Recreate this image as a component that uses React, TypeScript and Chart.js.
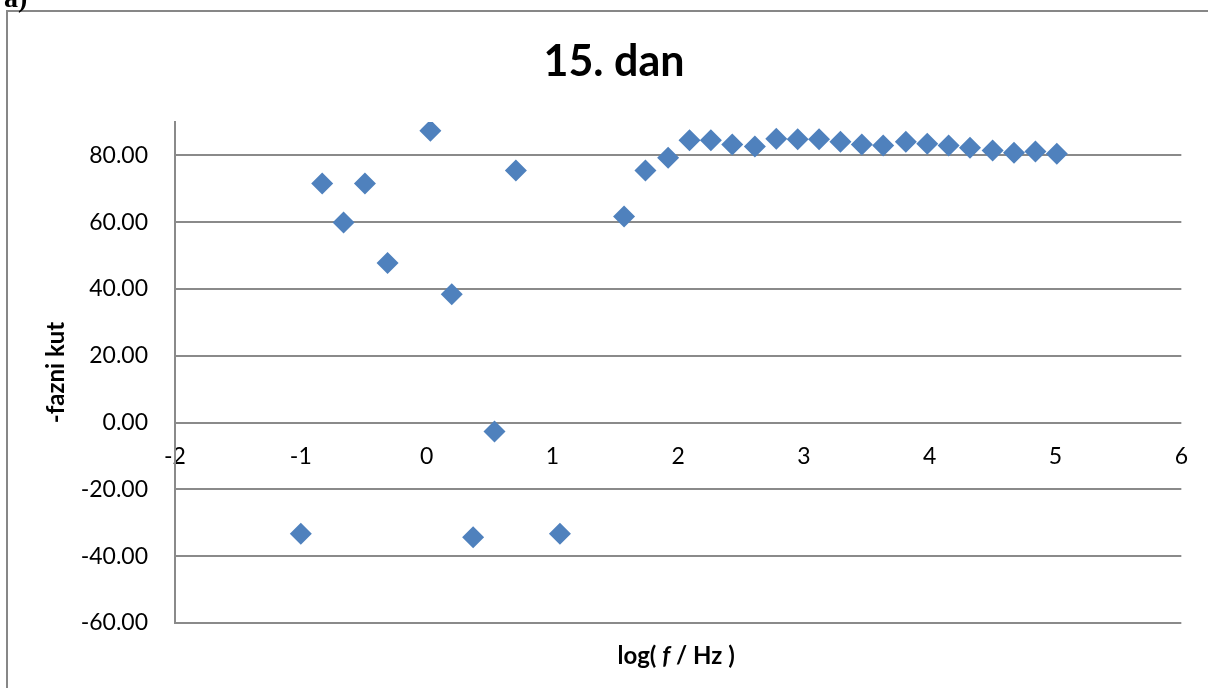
import React, { useEffect, useRef } from "react";
import { Chart, registerables } from "chart.js";

Chart.register(...registerables);

// log(f / Hz) values
const logF = [
  -1.0, -0.83, -0.66, -0.49, -0.31, 0.03, 0.2, 0.37, 0.54, 0.71, 1.06,
  1.57, 1.74, 1.92, 2.09, 2.26, 2.43, 2.61, 2.78, 2.95, 3.12, 3.29, 3.46,
  3.63, 3.81, 3.98, 4.15, 4.32, 4.5, 4.67, 4.84, 5.01,
];
// -phase angle values
const phase = [
  -33.3, 71.6, 59.9, 71.6, 47.8, 87.4, 38.4, -34.3, -2.7, 75.5, -33.3,
  61.7, 75.5, 79.3, 84.5, 84.5, 83.3, 82.7, 85.0, 84.8, 84.8, 84.1, 83.3,
  83.0, 84.1, 83.5, 83.0, 82.3, 81.5, 80.8, 81.2, 80.5,
];

const xTicks = [-2, -1, 0, 1, 2, 3, 4, 5, 6];
const yTicks = [-60, -40, -20, 0, 20, 40, 60, 80];

const chartTitle = "15. dan";
const yTitle = "-fazni kut";
const xTitleParts: [string, boolean][] = [
  ["log( ", false],
  ["f", true],
  [" / Hz )", false],
];
const panelLabel = "a)";

const FONT = "Lato";
const GRID = "#8a8a8a";
const MARKER = "#4F81BD";

const decorPlugin = {
  id: "decor",
  beforeDraw(chart: any) {
    const ctx = chart.ctx;
    ctx.save();
    ctx.fillStyle = "#ffffff";
    ctx.fillRect(0, 0, chart.width, chart.height);
    // frame
    ctx.strokeStyle = "#878787";
    ctx.lineWidth = 2;
    ctx.beginPath();
    ctx.moveTo(7, 720);
    ctx.lineTo(7, 11);
    ctx.lineTo(1240, 11);
    ctx.stroke();
    // panel label (cut off at top)
    ctx.fillStyle = "#000";
    ctx.font = `bold 28px "Liberation Serif"`;
    ctx.textBaseline = "alphabetic";
    ctx.textAlign = "left";
    ctx.fillText(panelLabel, 4, 7);
    ctx.restore();
  },
  afterDraw(chart: any) {
    const ctx = chart.ctx;
    const area = chart.chartArea;
    ctx.save();
    ctx.fillStyle = "#000";
    // title
    ctx.font = `bold 43px ${FONT}`;
    ctx.textAlign = "center";
    ctx.textBaseline = "alphabetic";
    ctx.fillText(chartTitle, 614, 76);
    // x axis title with italic f
    const fonts = xTitleParts.map(([, it]) =>
      it ? `italic bold 24px ${FONT}` : `bold 24px ${FONT}`
    );
    let total = 0;
    const widths = xTitleParts.map(([t], i) => {
      ctx.font = fonts[i];
      const w = ctx.measureText(t).width;
      total += w;
      return w;
    });
    let x = (area.left + area.right) / 2 - 2 - total / 2;
    ctx.textAlign = "left";
    ctx.textBaseline = "middle";
    xTitleParts.forEach(([t], i) => {
      ctx.font = fonts[i];
      ctx.fillText(t, x, 656);
      x += widths[i];
    });
    ctx.restore();
  },
};

export default function App() {
  const ref = useRef<HTMLCanvasElement | null>(null);

  useEffect(() => {
    if (!ref.current) return;
    const chart = new Chart(ref.current, {
      type: "scatter",
      data: {
        datasets: [
          {
            data: logF.map((x, i) => ({ x, y: phase[i] })),
            pointStyle: "rectRot",
            pointRadius: 11,
            pointHoverRadius: 11,
            backgroundColor: MARKER,
            borderColor: MARKER,
            borderWidth: 0,
          },
        ],
      },
      options: {
        responsive: false,
        devicePixelRatio: 1,
        animation: false,
        layout: { padding: { top: 122, right: 23, bottom: 65, left: 0 } },
        plugins: {
          legend: { display: false },
          title: { display: false },
          tooltip: { enabled: false },
        },
        scales: {
          x: {
            type: "linear",
            min: -2,
            max: 6,
            position: { y: 0 } as any,
            afterBuildTicks: (scale: any) => {
              scale.ticks = xTicks.map((v) => ({ value: v }));
            },
            grid: { display: false, drawTicks: false },
            border: { display: false },
            ticks: {
              color: "#000",
              font: { family: FONT, size: 23 },
              padding: 20,
              maxRotation: 0,
              callback: (v: any) => String(v),
            },
          },
          y: {
            type: "linear",
            min: -60,
            max: 90,
            afterBuildTicks: (scale: any) => {
              scale.ticks = yTicks.map((v) => ({ value: v }));
            },
            afterFit: (scale: any) => {
              scale.width = 175;
            },
            grid: { color: GRID, lineWidth: 2, drawTicks: false },
            border: { display: true, color: GRID, width: 2 },
            ticks: {
              color: "#000",
              font: { family: FONT, size: 23 },
              padding: 27,
              callback: (v: any) => Number(v).toFixed(2),
            },
            title: {
              display: true,
              text: yTitle,
              color: "#000",
              font: { family: FONT, size: 24, weight: "bold" },
              padding: { top: 42, bottom: 0 },
            },
          },
        },
      },
      plugins: [decorPlugin],
    });
    return () => chart.destroy();
  }, []);

  return (
    <div
      style={{
        position: "absolute",
        left: 0,
        top: 0,
        width: 1208,
        height: 688,
        overflow: "hidden",
        background: "#fff",
      }}
    >
      <canvas
        ref={ref}
        width={1208}
        height={688}
        style={{ display: "block", width: 1208, height: 688 }}
      />
    </div>
  );
}
